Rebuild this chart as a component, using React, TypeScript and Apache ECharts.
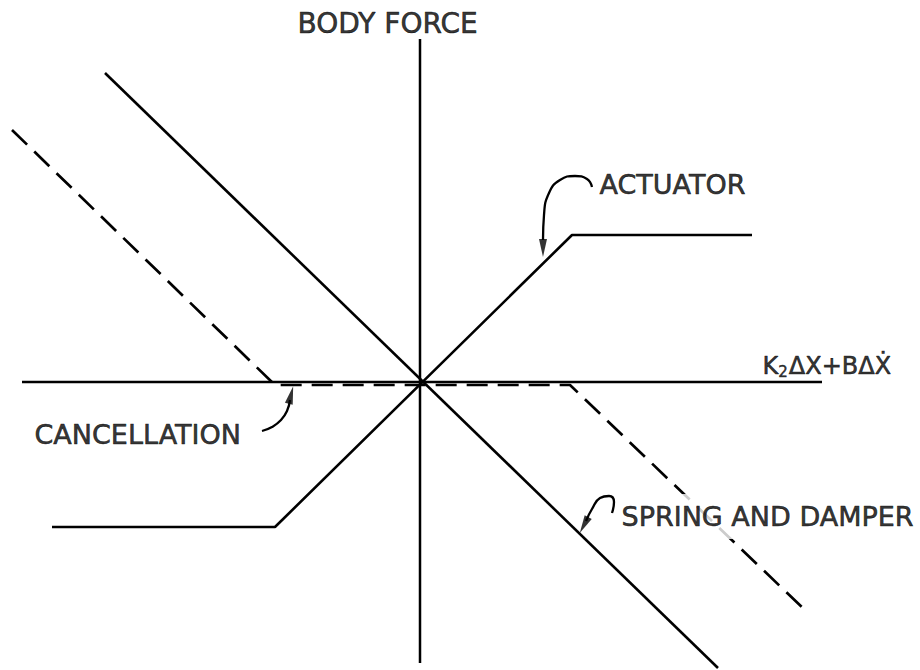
import React, { useEffect, useRef } from "react";
import * as echarts from "echarts";

// Data coordinates: origin at the crossing of the two axes.
const AXIS_X: number[][] = [[-398, 0], [402, 0]];
const AXIS_Y: number[][] = [[0, 343], [0, -281]];
const SPRING_DAMPER: number[][] = [[-315, 309], [298, -286]];
const ACTUATOR: number[][] = [[-368, -145], [-145, -145], [152, 147], [332, 147]];
const CANCELLATION: number[][] = [[-408, 252], [-145, -3], [150, -3], [387, -230]];

// Annotation leader curves
const ACTUATOR_LEADER: number[][] = [[172, 195], [167, 203], [155, 206], [140, 202], [129, 189], [124, 167], [123, 142]];
const CANCEL_LEADER: number[][] = [[-158, -49], [-148, -45], [-139, -38], [-133, -29], [-130, -18]];
const SPRING_LEADER: number[][] = [[192, -131], [194, -120], [189, -114], [180, -116], [172, -127], [166, -139]];
// arrow heads: x, y, rotation
const ARROW_HEADS: number[][] = [[123, 134, 180], [-129, -13, -14], [164, -143, 152]];

// Text labels and their anchors (left edge, vertical centre of capitals)
const LABEL_TEXTS: string[] = ["BODY FORCE", "ACTUATOR", "CANCELLATION", "SPRING AND DAMPER", "{k|K}{s|2}{k|ΔX+BΔẊ}"];
const LABEL_ANCHORS: number[][] = [[-122, 358], [180, 197], [-385, -53], [200, -135], [343, 16]];

const INK = "#000000";
const FONT = "DejaVu Sans";

export default function App() {
  const ref = useRef<HTMLDivElement>(null);
  useEffect(() => {
    if (!ref.current) return;
    const chart = echarts.init(ref.current, null, { renderer: "svg" });
    const solid = (data: number[][], w = 2.6) => ({
      type: "line",
      data,
      symbol: "none",
      lineStyle: { color: INK, width: w, type: "solid" },
      silent: true,
      z: 2,
    });
    const leader = (data: number[][]) => ({
      type: "line",
      data,
      smooth: true,
      symbol: "none",
      lineStyle: { color: INK, width: 2.3 },
      silent: true,
      z: 3,
    });
    const labelSizes = [28, 27, 27, 27, 24];
    chart.setOption({
      animation: false,
      backgroundColor: "#ffffff",
      grid: { left: 0, right: 0, top: 0, bottom: 0 },
      xAxis: { type: "value", min: -420, max: 500, show: false },
      yAxis: { type: "value", min: -288, max: 382, show: false },
      series: [
        solid(AXIS_X, 2.5),
        solid(AXIS_Y, 2.5),
        solid(SPRING_DAMPER),
        solid(ACTUATOR),
        {
          type: "line",
          data: CANCELLATION,
          symbol: "none",
          lineStyle: { color: INK, width: 2.7, type: [21, 10] },
          silent: true,
          z: 2,
        },
        leader(ACTUATOR_LEADER),
        leader(CANCEL_LEADER),
        leader(SPRING_LEADER),
        {
          type: "scatter",
          silent: true,
          z: 4,
          data: ARROW_HEADS.map((a) => ({
            value: [a[0], a[1]],
            symbol: "triangle",
            symbolSize: [8, 18],
            symbolRotate: a[2],
          })),
          itemStyle: { color: INK },
        },
        {
          type: "scatter",
          silent: true,
          z: 5,
          symbolSize: 1,
          itemStyle: { color: "rgba(0,0,0,0)" },
          data: LABEL_TEXTS.map((t, i) => ({
            value: LABEL_ANCHORS[i],
            label: {
              show: true,
              formatter: t,
              position: [0, 0],
              align: "left",
              verticalAlign: "middle",
              color: INK,
              fontFamily: FONT,
              fontSize: labelSizes[i],
              textBorderColor: INK,
              textBorderWidth: 0.6,
              backgroundColor: i === 3 ? "#ffffff" : "transparent",
              padding: i === 3 ? [9, 2, 9, 2] : 0,
              rich: {
                k: { fontFamily: FONT, fontSize: 24, color: INK, textBorderColor: INK, textBorderWidth: 0.6 },
                s: { fontFamily: FONT, fontSize: 15, color: INK, textBorderColor: INK, textBorderWidth: 0.5, padding: [12, 1, 0, 0] },
              },
            },
          })),
        },
      ],
    });
    return () => chart.dispose();
  }, []);
  return (
    <div
      ref={ref}
      style={{ position: "fixed", left: 0, top: 0, width: 920, height: 670, background: "#fff" }}
    />
  );
}
